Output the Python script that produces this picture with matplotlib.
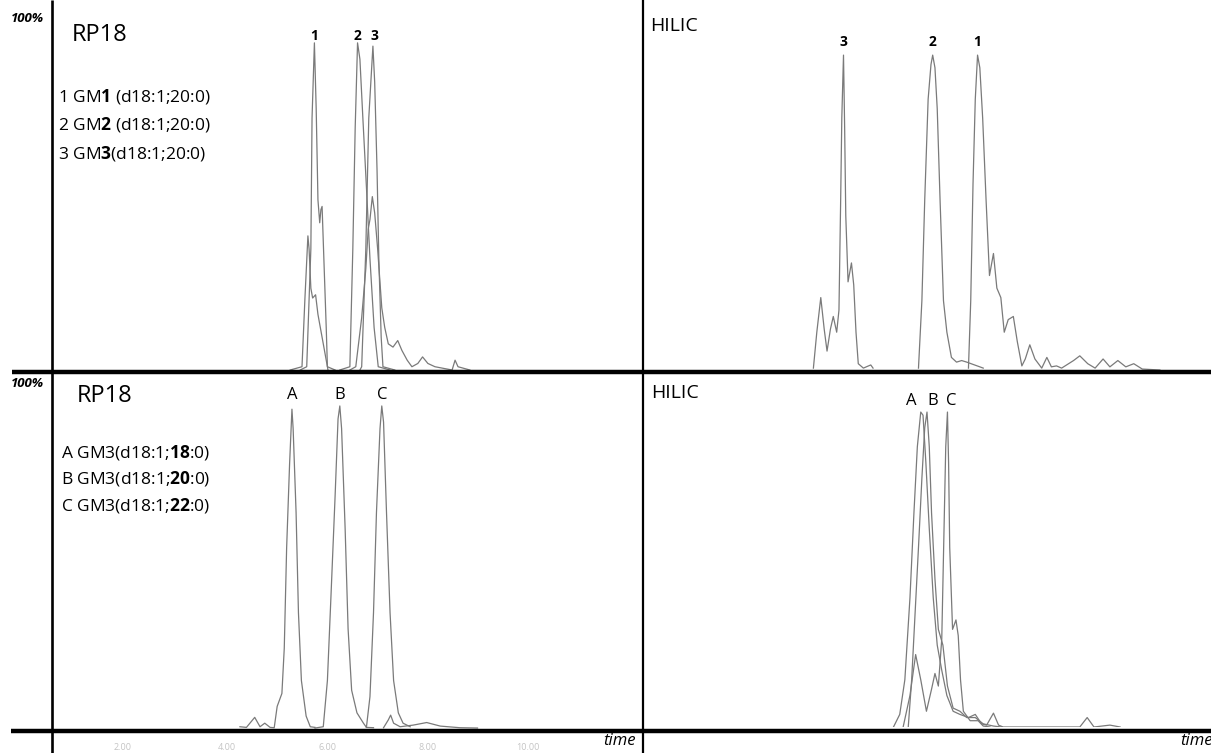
import numpy as np
import matplotlib
matplotlib.use('Agg')
import matplotlib.pyplot as plt

plt.rcParams['font.family'] = ['Open Sans', 'DejaVu Sans']
plt.rcParams['mathtext.fontset'] = 'custom'
plt.rcParams['mathtext.rm'] = 'Open Sans'
plt.rcParams['mathtext.bf'] = 'Open Sans:bold'

# ---- traces: time (min), intensity (% of max) ----
# RP18, gangliosides GM1/GM2/GM3
rp_gm1_t = [4.20, 4.31, 4.38, 4.40, 4.44, 4.47, 4.50, 4.53, 4.55, 4.57, 4.60, 4.64, 4.66, 4.79]
rp_gm1_i = [0, 1, 37, 77, 100, 80, 52, 45, 49, 50, 34, 13, 1, 0]
rp_gm1b_t = [4.03, 4.23, 4.28, 4.33, 4.35, 4.38, 4.41, 4.46, 4.50, 4.57, 4.64, 4.67]
rp_gm1b_i = [0, 1, 22, 41, 37, 25, 22, 23, 17, 10, 3, 0]
rp_gm2_t = [4.87, 5.04, 5.09, 5.13, 5.17, 5.21, 5.26, 5.32, 5.38, 5.45, 5.52, 5.72]
rp_gm2_i = [0, 1, 37, 74, 100, 95, 77, 56, 34, 13, 1, 0]
rp_gm3_t = [5.21, 5.24, 5.31, 5.36, 5.43, 5.46, 5.50, 5.53, 5.57, 5.60, 5.80]
rp_gm3_i = [0, 1, 37, 77, 99, 88, 61, 34, 10, 1, 0]
rp_gm3b_t = [5.04, 5.14, 5.24, 5.31, 5.35, 5.38, 5.42, 5.46, 5.51, 5.58, 5.63, 5.69, 5.77,
             5.85, 5.92, 6.01, 6.09, 6.19, 6.27, 6.36, 6.48, 6.77, 6.82, 6.87, 7.07]
rp_gm3b_i = [0, 1, 16, 31, 43, 46, 53, 48, 37, 19, 13, 8, 7,
             9, 6, 3, 1, 2, 4, 2, 1, 0, 3, 1, 0]

# HILIC, gangliosides GM1/GM2/GM3
hi_gm3_t = [3.00, 3.06, 3.13, 3.19, 3.24, 3.30, 3.35, 3.41, 3.45, 3.48, 3.50, 3.53, 3.55,
            3.57, 3.61, 3.67, 3.71, 3.75, 3.79, 3.88, 3.97, 4.01, 4.05]
hi_gm3_i = [0.6, 12, 23, 13, 6, 13, 17, 12, 19, 54, 80, 100, 77,
            49, 28, 34, 27, 12, 2, 0.6, 1.3, 1.6, 0.6]
hi_gm2_t = [4.85, 4.91, 4.96, 5.02, 5.07, 5.10, 5.14, 5.18, 5.23, 5.29, 5.35, 5.43, 5.52,
            5.61, 5.70, 5.93, 5.99]
hi_gm2_i = [0.6, 22, 54, 86, 97, 100, 96, 83, 54, 22, 12, 4, 2.5, 3, 2.5, 1, 0.6]
hi_gm1_t = [5.73, 5.77, 5.81, 5.85, 5.89, 5.93, 5.98, 6.04, 6.10, 6.17, 6.23, 6.30, 6.36,
            6.43, 6.52, 6.59, 6.67, 6.73, 6.81, 6.90, 7.02, 7.11, 7.19, 7.28, 7.37, 7.58,
            7.69, 7.83, 7.96, 8.10, 8.22, 8.36, 8.50, 8.64, 8.79, 9.10]
hi_gm1_i = [0.6, 22, 59, 86, 100, 96, 80, 54, 30, 37, 26, 23, 12,
            16, 17, 9, 1.3, 3.5, 8, 3.5, 0.6, 4, 1, 1.3, 0.6, 3,
            4.5, 2, 0.6, 3.5, 1, 3, 1, 2, 0.3, 0]

# RP18, GM3 with 18:0 / 20:0 / 22:0 fatty acid
rp_a_t = [3.18, 3.29, 3.43, 3.52, 3.60, 3.69, 3.76, 3.81, 3.89, 3.93, 3.97, 4.02, 4.06,
          4.08, 4.13, 4.17, 4.22, 4.30, 4.37, 4.45]
rp_a_i = [0.7, 0.5, 3.6, 0.7, 1.8, 0.5, 0.4, 7, 11, 25, 56, 82, 99,
          93, 67, 36, 15, 4, 0.7, 0.5]
rp_b_t = [4.45, 4.59, 4.66, 4.72, 4.79, 4.84, 4.87, 4.90, 4.96, 5.01, 5.07, 5.16, 5.27,
          5.32, 5.44]
rp_b_i = [0.3, 0.7, 15, 41, 72, 96, 100, 93, 62, 31, 12, 5, 1.8, 0.5, 0.4]
rp_c_t = [5.32, 5.38, 5.44, 5.49, 5.55, 5.58, 5.61, 5.66, 5.72, 5.78, 5.86, 5.94, 6.06]
rp_c_i = [0.5, 10, 36, 67, 93, 100, 95, 67, 36, 15, 5, 1.8, 0.7]
rp_cb_t = [5.61, 5.69, 5.73, 5.78, 5.89, 6.11, 6.34, 6.57, 6.90, 7.20]
rp_cb_i = [0.4, 2.8, 4.3, 1.8, 0.7, 1.2, 2, 0.9, 0.4, 0.3]

# HILIC, GM3 with 18:0 / 20:0 / 22:0 fatty acid
hi_a_t = [4.41, 4.52, 4.61, 4.70, 4.77, 4.83, 4.89, 4.93, 4.98, 5.04, 5.11, 5.18, 5.26,
          5.35, 5.46, 5.58, 5.73, 5.85, 5.96, 6.05, 6.17, 6.26, 6.34, 7.69, 7.82, 7.94,
          8.22, 8.40]
hi_a_i = [0, 4, 15, 41, 68, 89, 100, 99, 84, 63, 41, 26, 18,
          10, 5, 4, 3, 4, 1, 0.6, 4.4, 0.6, 0, 0, 3, 0,
          0.6, 0]
hi_b_t = [4.67, 4.73, 4.79, 4.85, 4.91, 4.96, 5.00, 5.04, 5.08, 5.14, 5.20, 5.28, 5.36,
          5.46, 5.58, 5.70, 5.85, 5.99, 6.17, 6.31]
hi_b_i = [0, 15, 36, 57, 79, 95, 100, 89, 68, 47, 31, 26, 13,
          6, 5, 3, 3, 1, 0.3, 0]
hi_c_t = [4.58, 4.70, 4.80, 4.89, 4.99, 5.08, 5.14, 5.20, 5.26, 5.30, 5.33, 5.36, 5.38,
          5.40, 5.45, 5.51, 5.55, 5.59, 5.64, 5.76, 5.90, 5.99, 6.11]
hi_c_i = [0, 10, 23, 15, 5, 12, 17, 13, 28, 63, 89, 100, 84,
          57, 31, 34, 29, 15, 5, 2, 2, 0.3, 0]

# peak labels (label, retention time of the apex)
rp_top_labels = ['1', '2', '3']
rp_top_peaks = [4.44, 5.17, 5.45]
hi_top_labels = ['3', '2', '1']
hi_top_peaks = [3.53, 5.10, 5.89]
rp_bot_labels = ['A', 'B', 'C']
rp_bot_peaks = [4.06, 4.87, 5.58]
hi_bot_labels = ['A', 'B', 'C']
hi_bot_peaks = [4.72, 5.10, 5.42]

legend_top = ['1 GM$\\mathbf{1}$ (d18:1;20:0)',
              '2 GM$\\mathbf{2}$ (d18:1;20:0)',
              '3 GM$\\mathbf{3}$(d18:1;20:0)']
legend_bot = ['A GM3(d18:1;$\\mathbf{18}$:0)',
              'B GM3(d18:1;$\\mathbf{20}$:0)',
              'C GM3(d18:1;$\\mathbf{22}$:0)']

time_tick_pos = [1.2, 2.96, 4.67, 6.36, 8.05]
time_tick_labels = ['2.00', '4.00', '6.00', '8.00', '10.00']

W, H = 1211, 753
fig = plt.figure(figsize=(W / 100, H / 100), dpi=100)
fig.patch.set_facecolor('white')

TRACE = '#7a7a7a'


def panel(x0, y0, x1, y1, ymax):
    # x0..x1, y0 (top) .. y1 (baseline) in pixels
    ax = fig.add_axes([x0 / W, 1 - y1 / H, (x1 - x0) / W, (y1 - y0) / H])
    ax.set_xlim(0, 10)
    ax.set_ylim(0, ymax)
    ax.patch.set_alpha(0)
    for s in ax.spines.values():
        s.set_visible(False)
    ax.set_xticks([])
    ax.set_yticks([])
    return ax


ax_tl = panel(52, 0, 643, 370, 113.1)
ax_tr = panel(643, 0, 1211, 370, 117.5)
ax_bl = panel(52, 373, 643, 729, 110.2)
ax_br = panel(643, 373, 1211, 727, 112.4)

for t, i in [(rp_gm1b_t, rp_gm1b_i), (rp_gm1_t, rp_gm1_i), (rp_gm2_t, rp_gm2_i),
             (rp_gm3b_t, rp_gm3b_i), (rp_gm3_t, rp_gm3_i)]:
    ax_tl.plot(t, i, color=TRACE, lw=0.9)
for t, i in [(hi_gm3_t, hi_gm3_i), (hi_gm2_t, hi_gm2_i), (hi_gm1_t, hi_gm1_i)]:
    ax_tr.plot(t, i, color=TRACE, lw=0.9)
for t, i in [(rp_a_t, rp_a_i), (rp_b_t, rp_b_i), (rp_c_t, rp_c_i), (rp_cb_t, rp_cb_i)]:
    ax_bl.plot(t, i, color=TRACE, lw=0.9)
for t, i in [(hi_a_t, hi_a_i), (hi_b_t, hi_b_i), (hi_c_t, hi_c_i)]:
    ax_br.plot(t, i, color=TRACE, lw=0.9)

# peak labels
for lab, x in zip(rp_top_labels, rp_top_peaks):
    ax_tl.text(x, 100, lab, ha='center', va='bottom', fontsize=10, fontweight='bold')
for lab, x in zip(hi_top_labels, hi_top_peaks):
    ax_tr.text(x, 102, lab, ha='center', va='bottom', fontsize=10, fontweight='bold')
for lab, x in zip(rp_bot_labels, rp_bot_peaks):
    ax_bl.text(x, 101, lab, ha='center', va='bottom', fontsize=12)
for lab, x in zip(hi_bot_labels, hi_bot_peaks):
    ax_br.text(x, 101, lab, ha='center', va='bottom', fontsize=12)

# faint time ticks under the lower RP18 panel
ax_bl.set_xticks(time_tick_pos)
ax_bl.set_xticklabels(time_tick_labels, fontsize=6.5, color='#c4c4c4')
ax_bl.tick_params(axis='x', length=0, pad=10)

# frame lines and free text on a pixel overlay
ov = fig.add_axes([0, 0, 1, 1], zorder=5)
ov.set_xlim(0, W)
ov.set_ylim(H, 0)
ov.axis('off')
ov.patch.set_alpha(0)
ov.plot([12, W], [372, 372], color='black', lw=3.2, solid_capstyle='butt')
ov.plot([11, W], [731, 731], color='black', lw=3.2, solid_capstyle='butt')
ov.plot([52, 52], [0, H], color='black', lw=1.9, solid_capstyle='butt')
ov.plot([643, 643], [0, H], color='black', lw=1.6, solid_capstyle='butt')

for y in (18, 383):
    ov.text(11, y, '100%', fontsize=9.5, fontweight='bold', fontstyle='italic',
            ha='left', va='center')
ov.text(72, 35, 'RP18', fontsize=17, ha='left', va='center')
ov.text(77, 396, 'RP18', fontsize=17, ha='left', va='center')
ov.text(650, 26, 'HILIC', fontsize=14, ha='left', va='center')
ov.text(651, 393, 'HILIC', fontsize=14, ha='left', va='center')

for k, s in enumerate(legend_top):
    ov.text(58, 96 + 28.5 * k, s, fontsize=12.5, ha='left', va='center')
for k, s in enumerate(legend_bot):
    ov.text(61, 452 + 26.7 * k, s, fontsize=12.5, ha='left', va='center')

ov.text(636, 741, 'time', fontsize=12, fontstyle='italic', ha='right', va='center')
ov.text(1180, 741, 'time', fontsize=12, fontstyle='italic', ha='left', va='center')

fig.savefig('out.png', dpi=100)
